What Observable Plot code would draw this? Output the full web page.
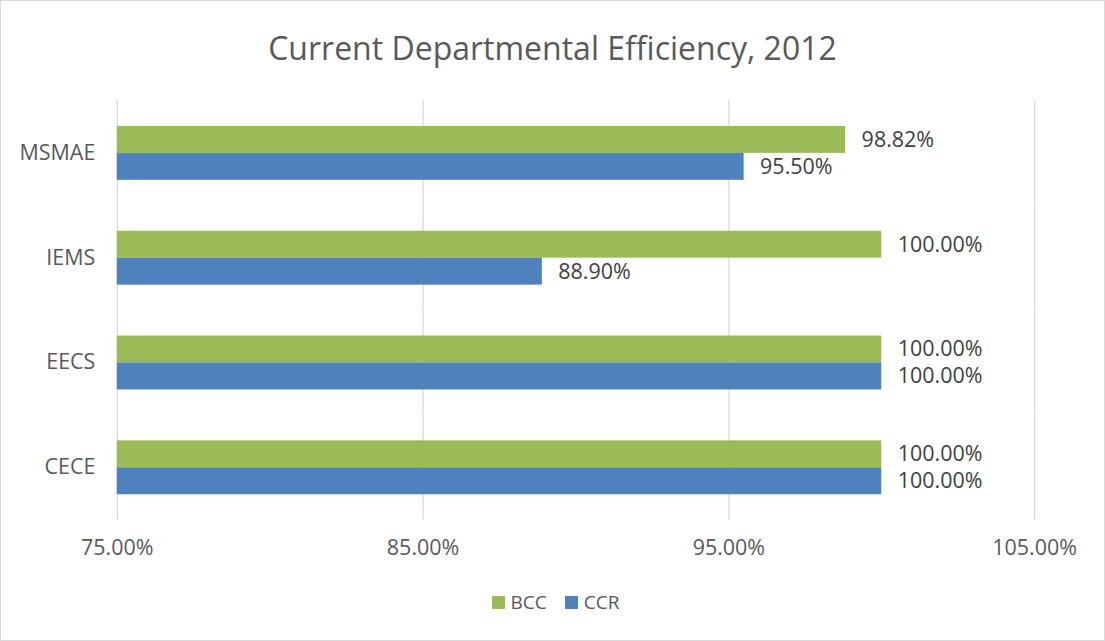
<!DOCTYPE html>
<html>
<head>
<meta charset="utf-8">
<script src="https://cdn.jsdelivr.net/npm/d3@7"></script>
<script src="https://cdn.jsdelivr.net/npm/@observablehq/plot@0.6"></script>
<style>
  html, body { margin: 0; padding: 0; background: #fff; }
  #chart {
    width: 1105px; height: 641px; box-sizing: border-box;
    border: 1px solid #d9d9d9; background: #fff; position: relative;
    font-family: "Open Sans", sans-serif; color: #595959;
  }
  #title {
    height: 52px; padding-top: 27px; line-height: 40px;
    text-align: center; font-size: 32px; color: #595959;
  }
  #legend {
    display: flex; justify-content: center; align-items: center;
    gap: 18px; font-size: 19px; margin-top: 20px; color: #595959;
    padding-left: 6px;
  }
  .sw { display: inline-block; width: 13px; height: 13px; margin-right: 6px; }
  .item { display: flex; align-items: center; }
  svg { display: block; }
</style>
</head>
<body>
<div id="chart">
  <div id="title">Current Departmental Efficiency, 2012</div>
  <div id="plot"></div>
  <div id="legend"></div>
</div>
<script>
const categories = ["MSMAE", "IEMS", "EECS", "CECE"];
const series = ["BCC", "CCR"];
const bccValues = [0.9882, 1.0, 1.0, 1.0];
const ccrValues = [0.955, 0.889, 1.0, 1.0];
const xTicks = [0.75, 0.85, 0.95, 1.05];
const colors = ["#9BBB59", "#4F81BD"];

const rows = [];
categories.forEach((c, i) => {
  rows.push({cat: c, series: "BCC", value: bccValues[i]});
  rows.push({cat: c, series: "CCR", value: ccrValues[i]});
});

const fmt = d3.format(".2%");

const plot = Plot.plot({
  width: 1105,
  height: 490,
  marginLeft: 116,
  marginRight: 70,
  marginTop: 20,
  marginBottom: 50,
  style: {fontFamily: "'Open Sans', sans-serif", fontSize: "21px", color: "#595959", background: "transparent"},
  x: {domain: [0.75, 1.05], axis: null},
  y: {domain: series, axis: null, paddingInner: 0, paddingOuter: 0.944},
  fy: {domain: categories, padding: 0, label: null, axis: null},
  color: {domain: series, range: colors},
  marks: [
    Plot.gridX(xTicks, {stroke: "#d9d9d9", strokeOpacity: 1, strokeWidth: 1.3}),
    Plot.axisX(xTicks, {anchor: "bottom", tickSize: 0, tickPadding: 20, tickFormat: fmt, label: null, fontSize: 21.5, fill: "#595959"}),
    Plot.axisFy({anchor: "left", tickSize: 0, tickPadding: 22, label: null, fontSize: 21.5, fill: "#595959"}),
    Plot.barX(rows, {fy: "cat", y: "series", x: "value", fill: "series", clip: true}),
    Plot.text(rows, {fy: "cat", y: "series", x: "value", text: d => fmt(d.value), textAnchor: "start", dx: 16, fill: "#404040", fontSize: 21.5})
  ]
});
document.getElementById("plot").appendChild(plot);

const legend = document.getElementById("legend");
series.forEach((s, i) => {
  const item = document.createElement("div");
  item.className = "item";
  item.innerHTML = `<span class="sw" style="background:${colors[i]}"></span><span>${s}</span>`;
  legend.appendChild(item);
});
</script>
</body>
</html>
